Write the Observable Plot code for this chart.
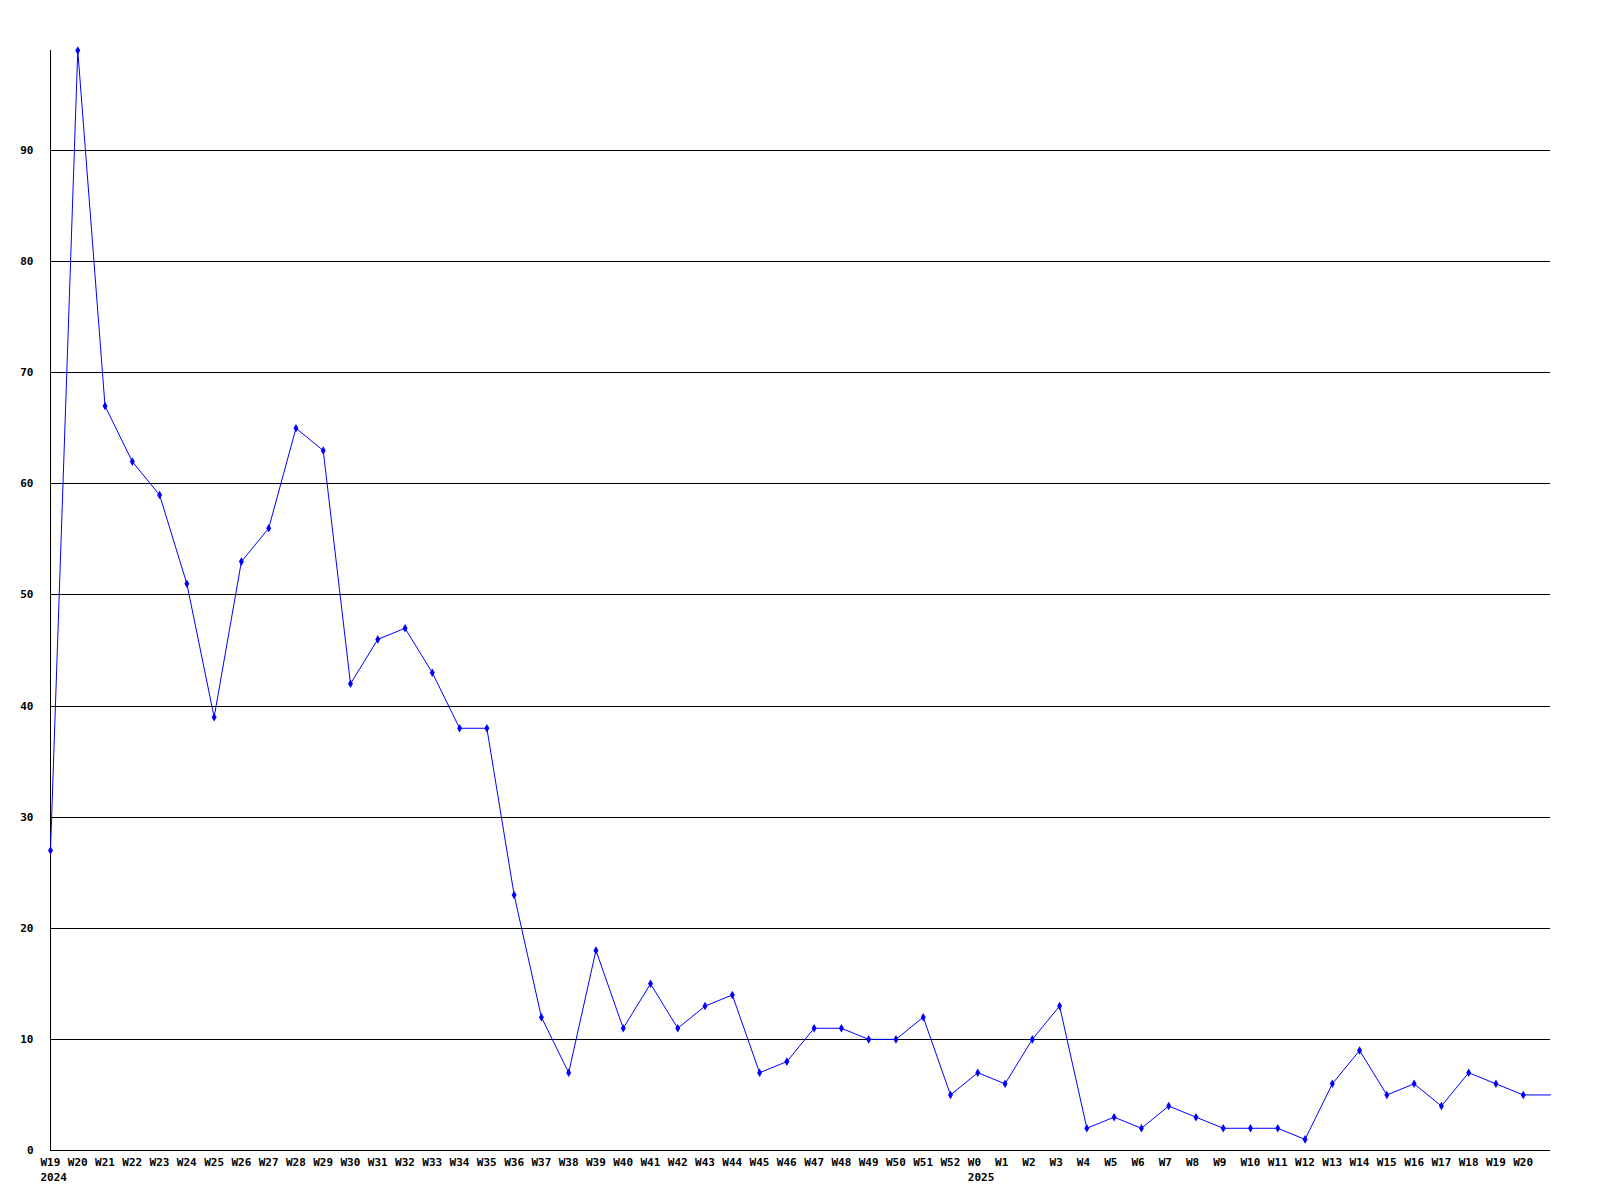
<!DOCTYPE html>
<html><head><meta charset="utf-8">
<script src="https://cdn.jsdelivr.net/npm/d3@7"></script>
<script src="https://cdn.jsdelivr.net/npm/@observablehq/plot@0.6"></script>
<style>body{margin:0;background:#fff}</style>
</head><body><div id="chart"></div>
<script>
const weeks = ["W19","W20","W21","W22","W23","W24","W25","W26","W27","W28","W29","W30","W31","W32","W33","W34","W35","W36","W37","W38","W39","W40","W41","W42","W43","W44","W45","W46","W47","W48","W49","W50","W51","W52",
  "W0","W1","W2","W3","W4","W5","W6","W7","W8","W9","W10","W11","W12","W13","W14","W15","W16","W17","W18","W19","W20"];
const values = [27,99,67,62,59,51,39,53,56,65,63,42,46,47,43,38,38,23,12,7,18,11,15,11,13,14,7,8,11,11,10,10,12,5,
  7,6,10,13,2,3,2,4,3,2,2,2,1,6,9,5,6,4,7,6,5];
const years = ["2024","2025"];
const yearFirstWeek = ["W19","W0"];
const yTicks = [0,10,20,30,40,50,60,70,80,90];

const rows = weeks.map((w,i)=>({i, w, v: values[i]}));
const lineRows = rows.concat([{i: weeks.length, v: values[values.length-1]}]);
const yearRows = years.map((y,k)=>({i: weeks.indexOf(yearFirstWeek[k]), y}));

const chart = Plot.plot({
  width: 1600, height: 1200,
  marginLeft: 50, marginRight: 50, marginTop: 50, marginBottom: 50,
  x: {domain: [0, weeks.length], axis: null},
  y: {domain: [0, 99], axis: null},
  style: {fontFamily: "DejaVu Sans Mono", fontSize: "11px", fontWeight: "bold", color: "black", background: "white"},
  marks: [
    Plot.ruleY(yTicks.filter(t=>t>0), {stroke: "black", strokeWidth: 1, shapeRendering: "crispEdges"}),
    Plot.ruleY([0], {stroke: "black", strokeWidth: 1, shapeRendering: "crispEdges"}),
    Plot.ruleX([0], {stroke: "black", strokeWidth: 1, shapeRendering: "crispEdges"}),
    Plot.line(lineRows, {x: "i", y: "v", stroke: "#0000ff", strokeWidth: 1}),
    Plot.dot(rows, {x: "i", y: "v", symbol: "diamond", r: 2.6, fill: "#0000ff", stroke: "none"}),
    Plot.text(yTicks, {x: () => 0, y: d => d, text: d => String(d), textAnchor: "end", dx: -17, fill: "black"}),
    Plot.text(rows, {x: "i", y: () => 0, text: "w", textAnchor: "start", dx: -10, dy: 12, fill: "black"}),
    Plot.text(yearRows, {x: "i", y: () => 0, text: "y", textAnchor: "start", dx: -10, dy: 27, fill: "black"})
  ]
});
document.getElementById("chart").append(chart);
</script>
</body></html>
